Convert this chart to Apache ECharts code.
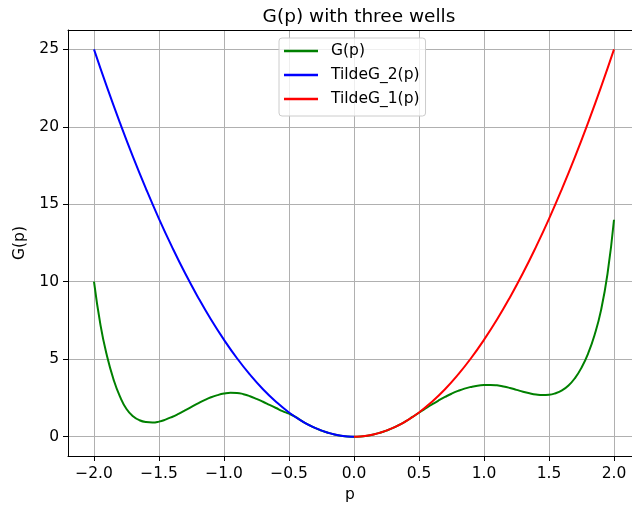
<!DOCTYPE html>
<html lang="en">
  <head>
    <meta charset="UTF-8" />
    <title>G(p) with three wells</title>
    <script src="https://cdn.jsdelivr.net/npm/echarts@6/dist/echarts.min.js"></script>
    <style>
      html, body { margin: 0; padding: 0; background: #fff; }
      #chart { width: 632px; height: 511px; }
    </style>
  </head>
  <body>
    <div id="chart"></div>
    <script>
      // sample points
      var gP = [-2.0, -1.95, -1.9, -1.85, -1.8, -1.75, -1.7, -1.65, -1.6, -1.55,
        -1.5, -1.45, -1.4, -1.35, -1.3, -1.25, -1.2, -1.15, -1.1, -1.05,
        -1.0, -0.95, -0.9, -0.85, -0.8, -0.75, -0.7, -0.65, -0.6, -0.55,
        -0.5, -0.45, -0.4, -0.35, -0.3, -0.25, -0.2, -0.15, -0.1, -0.05,
        0, 0.05, 0.1, 0.15, 0.2, 0.25, 0.3, 0.35, 0.4, 0.45,
        0.5, 0.55, 0.6, 0.65, 0.7, 0.75, 0.8, 0.85, 0.9, 0.95,
        1.0, 1.05, 1.1, 1.15, 1.2, 1.25, 1.3, 1.35, 1.4, 1.45,
        1.5, 1.55, 1.6, 1.65, 1.7, 1.75, 1.8, 1.85, 1.9, 1.95, 2.0];
      var gV = [10.0, 7.2, 5.2, 3.7, 2.58, 1.78, 1.32, 1.06, 0.94, 0.91,
        0.97, 1.1, 1.27, 1.47, 1.69, 1.92, 2.15, 2.36, 2.54, 2.68,
        2.78, 2.83, 2.82, 2.74, 2.61, 2.44, 2.25, 2.05, 1.85, 1.65,
        1.48, 1.27, 1.0, 0.77, 0.56, 0.39, 0.25, 0.14, 0.0625, 0.016,
        0, 0.016, 0.0625, 0.14, 0.25, 0.39, 0.56, 0.77, 1.0, 1.27,
        1.54, 1.82, 2.08, 2.33, 2.56, 2.77, 2.95, 3.1, 3.21, 3.29,
        3.33, 3.34, 3.31, 3.24, 3.14, 3.02, 2.9, 2.8, 2.72, 2.68,
        2.7, 2.8, 2.99, 3.3, 3.78, 4.45, 5.35, 6.55, 8.15, 10.5, 14.0];

      var t2P = [-2.0, -1.9, -1.8, -1.7, -1.6, -1.5, -1.4, -1.3, -1.2, -1.1,
        -1.0, -0.9, -0.8, -0.7, -0.6, -0.5, -0.4, -0.3, -0.2, -0.1, 0];
      var t2V = [25, 22.56, 20.25, 18.06, 16.0, 14.06, 12.25, 10.56, 9.0, 7.56,
        6.25, 5.06, 4.0, 3.06, 2.25, 1.56, 1.0, 0.56, 0.25, 0.0625, 0];

      var t1P = [0, 0.1, 0.2, 0.3, 0.4, 0.5, 0.6, 0.7, 0.8, 0.9,
        1.0, 1.1, 1.2, 1.3, 1.4, 1.5, 1.6, 1.7, 1.8, 1.9, 2.0];
      var t1V = [0, 0.0625, 0.25, 0.56, 1.0, 1.56, 2.25, 3.06, 4.0, 5.06,
        6.25, 7.56, 9.0, 10.56, 12.25, 14.06, 16.0, 18.06, 20.25, 22.56, 25];

      var xTicks = [-2.0, -1.5, -1.0, -0.5, 0, 0.5, 1.0, 1.5, 2.0];
      var yTicks = [0, 5, 10, 15, 20, 25];

      function pairs(xs, ys) {
        return xs.map(function (x, i) { return [x, ys[i]]; });
      }

      var font = "DejaVu Sans";
      var chart = echarts.init(document.getElementById("chart"), null, { renderer: "canvas" });

      // the right edge of the axes box falls just past the picture
      var xMin = -2.2, xMax = 2.1385;

      var option = {
        animation: false,
        backgroundColor: "#fff",
        textStyle: { fontFamily: font },
        title: {
          text: "G(p) with three wells",
          left: 354,
          top: 3,
          textAlign: "center",
          textStyle: { fontFamily: font, fontSize: 18.5, fontWeight: "normal", color: "#000" }
        },
        legend: {
          orient: "vertical",
          left: 279,
          top: 38,
          padding: [4, 6, 8, 5],
          itemGap: 6,
          itemWidth: 34,
          itemHeight: 2.5,
          icon: "rect",
          backgroundColor: "rgba(255,255,255,0.8)",
          borderColor: "#cccccc",
          borderWidth: 1,
          borderRadius: 3,
          textStyle: {
            fontFamily: font,
            fontSize: 15.5,
            color: "#000",
            lineHeight: 18,
            padding: [0, 0, 0, 8]
          },
          data: ["G(p)", "TildeG_2(p)", "TildeG_1(p)"]
        },
        grid: {
          left: 68,
          top: 30,
          right: 0,
          bottom: 55
        },
        xAxis: [
          {
            type: "value",
            min: xMin,
            max: xMax,
            name: "p",
            nameLocation: "middle",
            nameGap: 30,
            nameTextStyle: { fontFamily: font, fontSize: 15.5, color: "#000" },
            axisLine: { show: true, onZero: false, lineStyle: { color: "#000", width: 1 } },
            axisTick: { show: true, length: 5, lineStyle: { color: "#000" }, customValues: xTicks },
            axisLabel: {
              fontFamily: font,
              fontSize: 15.5,
              color: "#000",
              margin: 10,
              customValues: xTicks,
              formatter: function (v) { return v.toFixed(1).replace("-", "\u2212"); }
            },
            splitLine: { show: true, lineStyle: { color: "#b0b0b0", width: 1 } }
          },
          {
            // top edge of the frame
            type: "value",
            position: "top",
            min: xMin,
            max: xMax,
            axisLine: { show: true, onZero: false, lineStyle: { color: "#000", width: 1 } },
            axisTick: { show: false },
            axisLabel: { show: false },
            splitLine: { show: false }
          }
        ],
        yAxis: {
          type: "value",
          min: -1.25,
          max: 26.25,
          name: "G(p)",
          nameLocation: "middle",
          nameGap: 37,
          nameTextStyle: { fontFamily: font, fontSize: 15.5, color: "#000" },
          axisLine: { show: true, onZero: false, lineStyle: { color: "#000", width: 1 } },
          axisTick: { show: true, length: 5, lineStyle: { color: "#000" }, customValues: yTicks },
          axisLabel: {
            fontFamily: font,
            fontSize: 15.5,
            color: "#000",
            margin: 9,
            customValues: yTicks
          },
          splitLine: { show: true, lineStyle: { color: "#b0b0b0", width: 1 } }
        },
        series: [
          {
            name: "G(p)",
            type: "line",
            data: pairs(gP, gV),
            showSymbol: false,
            smooth: true,
            color: "#008000",
            lineStyle: { width: 2 }
          },
          {
            name: "TildeG_2(p)",
            type: "line",
            data: pairs(t2P, t2V),
            showSymbol: false,
            smooth: true,
            color: "#0000ff",
            lineStyle: { width: 2 }
          },
          {
            name: "TildeG_1(p)",
            type: "line",
            data: pairs(t1P, t1V),
            showSymbol: false,
            smooth: true,
            color: "#ff0000",
            lineStyle: { width: 2 }
          }
        ]
      };

      chart.setOption(option);
    </script>
  </body>
</html>
